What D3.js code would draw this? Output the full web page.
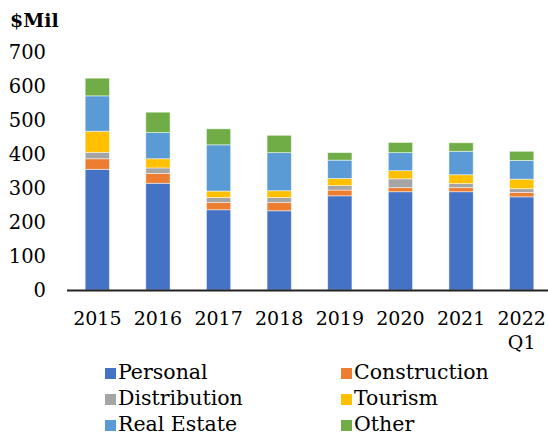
<!DOCTYPE html>
<html>
<head>
<meta charset="utf-8">
<script src="https://cdn.jsdelivr.net/npm/d3@7"></script>
<style>
  body { margin: 0; background: #fff; }
  text { font-family: "DejaVu Serif", serif; fill: #000; }
</style>
</head>
<body>
<svg id="chart"></svg>
<script>
// categories and series (values in $ million)
var years = ["2015", "2016", "2017", "2018", "2019", "2020", "2021", "2022 Q1"];
var seriesNames = ["Personal", "Construction", "Distribution", "Tourism", "Real Estate", "Other"];
var personal     = [355, 314, 236, 233, 277, 289, 289, 274];
var construction = [31, 29, 21, 24, 17, 12, 12, 13];
var distribution = [19, 16, 15, 15, 13, 26, 12, 11];
var tourism      = [62, 27, 19, 20, 21, 24, 26, 28];
var realEstate   = [104, 77, 136, 112, 54, 53, 69, 55];
var other        = [52, 60, 47, 51, 22, 30, 25, 27];
var yTicks = [0, 100, 200, 300, 400, 500, 600, 700];
var colors = ["#4472C4", "#ED7D31", "#A5A5A5", "#FFC000", "#5B9BD5", "#70AD47"];

var width = 548, height = 437;

var svg = d3.select("#chart")
            .attr("width", width)
            .attr("height", height);

// build table for the stack
var allSeries = [personal, construction, distribution, tourism, realEstate, other];
var table = years.map(function(y, i) {
  var row = { year: y };
  seriesNames.forEach(function(s, j) { row[s] = allSeries[j][i]; });
  return row;
});

var stacked = d3.stack().keys(seriesNames)(table);

var x = d3.scaleBand()
          .domain(years)
          .range([67, 552])
          .paddingInner(0.6)
          .paddingOuter(0.3);

var y = d3.scaleLinear()
          .domain([0, 700])
          .range([290, 52]);

// bars
svg.append("g")
   .selectAll("g")
   .data(stacked)
   .enter()
   .append("g")
   .attr("fill", function(d, i) { return colors[i]; })
   .selectAll("rect")
   .data(function(d) { return d; })
   .enter()
   .append("rect")
   .attr("x", function(d) { return x(d.data.year); })
   .attr("width", x.bandwidth())
   .attr("y", function(d) { return y(d[1]); })
   .attr("height", function(d) { return y(d[0]) - y(d[1]); })
   .attr("stroke", "#ffffff")
   .attr("stroke-opacity", 0.6)
   .attr("stroke-width", 0.8);

// baseline
svg.append("line")
   .attr("x1", 67)
   .attr("x2", width)
   .attr("y1", y(0) + 0.5)
   .attr("y2", y(0) + 0.5)
   .attr("stroke", "#222")
   .attr("stroke-width", 2);

// y labels
svg.append("g")
   .selectAll("text")
   .data(yTicks)
   .enter()
   .append("text")
   .attr("x", 46)
   .attr("y", function(d) { return y(d); })
   .attr("dy", "0.36em")
   .attr("text-anchor", "end")
   .style("font-size", "19.5px")
   .text(function(d) { return d; });

svg.append("text")
   .attr("x", 10)
   .attr("y", 27)
   .style("font-size", "19px")
   .style("font-weight", "bold")
   .text("$Mil");

// x labels (second line for "Q1")
var xl = svg.append("g")
            .selectAll("text")
            .data(years)
            .enter()
            .append("text")
            .attr("text-anchor", "middle")
            .style("font-size", "19px")
            .attr("transform", function(d) {
              return "translate(" + (x(d) + x.bandwidth() / 2) + ",325)";
            });

xl.selectAll("tspan")
  .data(function(d) { return d.split(" "); })
  .enter()
  .append("tspan")
  .attr("x", 0)
  .attr("dy", function(d, i) { return i === 0 ? 0 : 24; })
  .text(function(d) { return d; });

// legend
var legend = svg.append("g")
                .selectAll("g")
                .data(seriesNames)
                .enter()
                .append("g")
                .attr("transform", function(d, i) {
                  return "translate(" + (i % 2 === 0 ? 105 : 341) + "," + (379 + Math.floor(i / 2) * 26) + ")";
                });

legend.append("rect")
      .attr("x", 0)
      .attr("y", -11)
      .attr("width", 11)
      .attr("height", 11)
      .attr("fill", function(d, i) { return colors[i]; });

legend.append("text")
      .attr("x", 13)
      .attr("y", 0)
      .style("font-size", "20.5px")
      .text(function(d) { return d; });
</script>
</body>
</html>
